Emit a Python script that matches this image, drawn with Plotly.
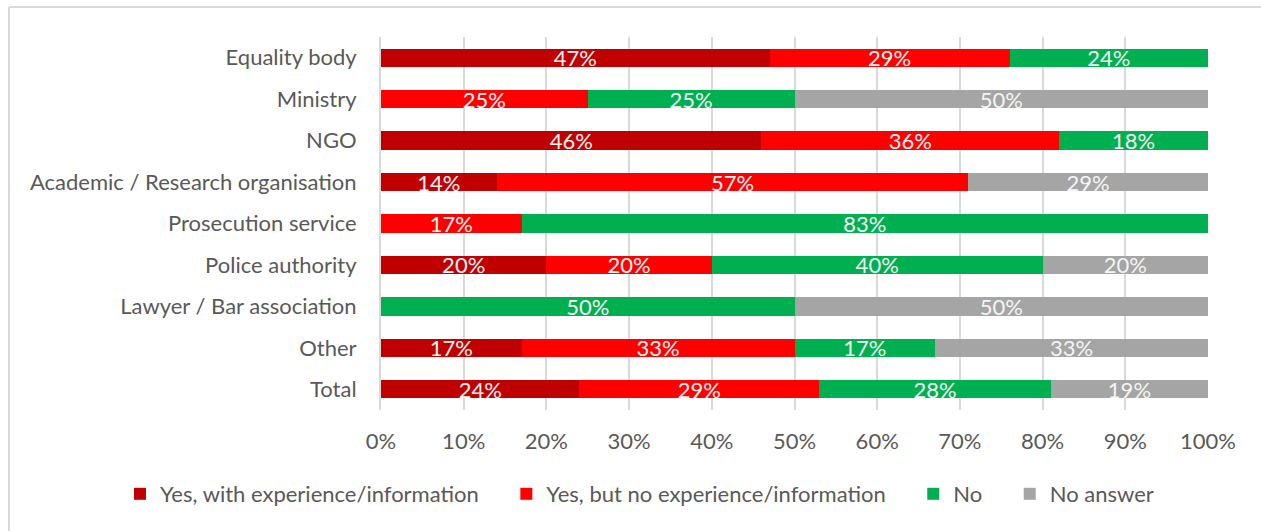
import plotly.graph_objects as go

# Respondent groups (top to bottom)
categories = [
    "Equality body",
    "Ministry",
    "NGO",
    "Academic / Research organisation",
    "Prosecution service",
    "Police authority",
    "Lawyer / Bar association",
    "Other",
    "Total",
]

# Share of answers per group, in percent
yes_with_experience = [47, 0, 46, 14, 0, 20, 0, 17, 24]
yes_no_experience = [29, 25, 36, 57, 17, 20, 0, 33, 29]
no = [24, 25, 18, 0, 83, 40, 50, 17, 28]
no_answer = [0, 50, 0, 29, 0, 20, 50, 33, 19]

series_names = [
    "Yes, with experience/information",
    "Yes, but no experience/information",
    "No",
    "No answer",
]
series_values = [yes_with_experience, yes_no_experience, no, no_answer]
series_colors = ["#C00000", "#FF0000", "#00B050", "#A5A5A5"]

FONT = "Lato"
TEXT_GREY = "#595959"

fig = go.Figure()
for name, vals, color in zip(series_names, series_values, series_colors):
    fig.add_trace(
        go.Bar(
            y=categories,
            x=vals,
            name=name + "\u00a0\u00a0\u00a0\u00a0",
            orientation="h",
            marker=dict(color=color, line=dict(width=0)),
            text=[f"{v}%" if v else "" for v in vals],
            textposition="inside",
            insidetextanchor="middle",
            textangle=0,
            constraintext="none",
            textfont=dict(family=FONT, size=22, color="#F4F4F4"),
            hoverinfo="skip",
        )
    )

fig.update_layout(
    barmode="stack",
    bargap=0.56,
    width=1261,
    height=531,
    margin=dict(l=381, r=53, t=37, b=121),
    paper_bgcolor="white",
    plot_bgcolor="white",
    font=dict(family=FONT, color=TEXT_GREY, size=20),
    xaxis=dict(
        range=[0, 100],
        dtick=10,
        ticksuffix="%",
        showgrid=True,
        gridcolor="#D9D9D9",
        gridwidth=2,
        zeroline=False,
        showline=False,
        ticks="",
        ticklabelstandoff=16,
        tickfont=dict(family=FONT, size=22, color=TEXT_GREY),
        fixedrange=True,
    ),
    yaxis=dict(
        autorange="reversed",
        showgrid=False,
        showline=True,
        linecolor="#D9D9D9",
        linewidth=2,
        ticks="",
        ticklabelstandoff=18,
        tickfont=dict(family=FONT, size=22, color=TEXT_GREY),
        fixedrange=True,
    ),
    legend=dict(
        orientation="h",
        x=(120 - 381) / 827,
        xanchor="left",
        y=(410 - 494) / 373,
        yanchor="middle",
        font=dict(family=FONT, size=22, color=TEXT_GREY),
        itemwidth=30,
        traceorder="normal",
    ),
    showlegend=True,
)

# Chart frame: the outer border shows along the top and left edges
fig.add_shape(
    type="line", xref="paper", yref="paper",
    x0=(9 - 381) / 827, x1=(1261 - 381) / 827,
    y0=(531 - 121 - 7) / 373, y1=(531 - 121 - 7) / 373,
    line=dict(color="#D9D9D9", width=2),
)
fig.add_shape(
    type="line", xref="paper", yref="paper",
    x0=(9 - 381) / 827, x1=(9 - 381) / 827,
    y0=(531 - 121 - 7) / 373, y1=-121 / 373,
    line=dict(color="#D9D9D9", width=2),
)

fig.write_html("out.html")
